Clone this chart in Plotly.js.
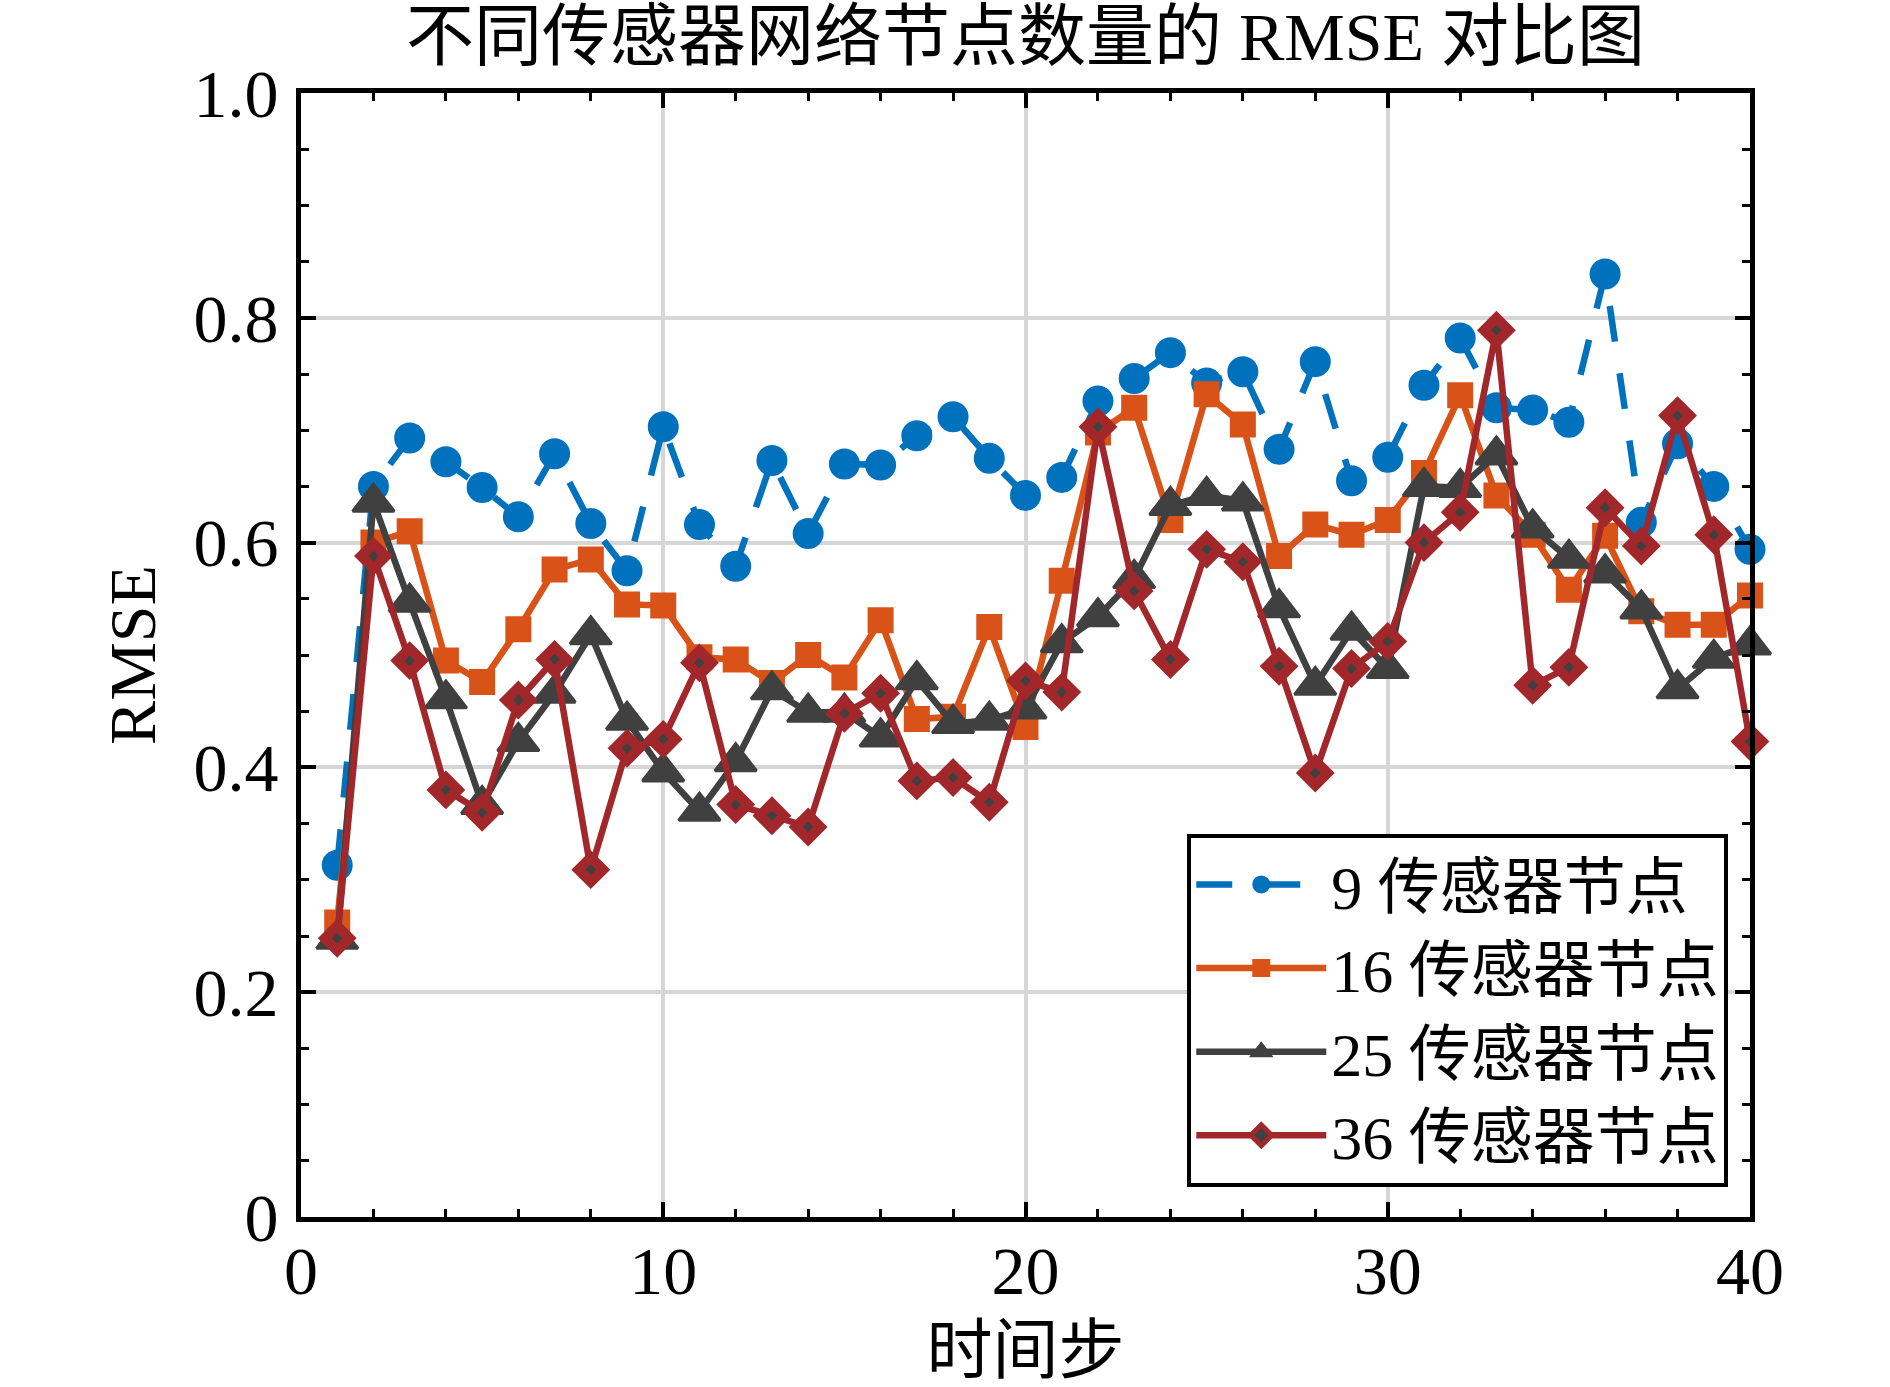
<!DOCTYPE html>
<html>
<head>
<meta charset="utf-8">
<script src="https://cdn.plot.ly/plotly-3.0.1.min.js"></script>
<style>html,body{margin:0;padding:0;background:#fff;}#chart{width:1890px;height:1387px;}</style>
</head>
<body>
<div id="chart"></div>
<script>
// ---- data ----
const timeSteps = [1,2,3,4,5,6,7,8,9,10,11,12,13,14,15,16,17,18,19,20,21,22,23,24,25,26,27,28,29,30,31,32,33,34,35,36,37,38,39,40];

const rmse9 = [0.313,0.650,0.693,0.672,0.649,0.623,0.679,0.617,0.575,0.703,
               0.616,0.579,0.673,0.608,0.670,0.669,0.695,0.712,0.675,0.642,
               0.658,0.726,0.746,0.769,0.742,0.752,0.683,0.761,0.655,0.676,
               0.740,0.782,0.720,0.718,0.707,0.839,0.618,0.688,0.650,0.594];

const rmse16 = [0.262,0.600,0.610,0.495,0.476,0.523,0.576,0.585,0.545,0.544,
                0.498,0.496,0.475,0.500,0.480,0.531,0.443,0.445,0.525,0.436,
                0.566,0.698,0.720,0.620,0.732,0.705,0.588,0.616,0.607,0.620,
                0.662,0.731,0.642,0.607,0.558,0.606,0.539,0.527,0.527,0.553];

const rmse25 = [0.247,0.636,0.547,0.461,0.367,0.423,0.466,0.518,0.442,0.396,
                0.361,0.405,0.469,0.449,0.449,0.427,0.478,0.439,0.442,0.452,
                0.511,0.534,0.568,0.633,0.642,0.637,0.542,0.473,0.522,0.488,
                0.650,0.649,0.678,0.613,0.586,0.573,0.541,0.470,0.497,0.509];

const rmse36 = [0.248,0.588,0.495,0.380,0.360,0.460,0.496,0.309,0.417,0.425,
                0.493,0.367,0.357,0.347,0.448,0.466,0.388,0.391,0.369,0.477,
                0.467,0.703,0.557,0.496,0.594,0.583,0.490,0.395,0.488,0.512,
                0.600,0.627,0.789,0.473,0.489,0.631,0.597,0.713,0.607,0.423];

const seriesNames = ["9 传感器节点","16 传感器节点","25 传感器节点","36 传感器节点"];
const xTickVals = [0,10,20,30,40];
const xTickText = ["0","10","20","30","40"];
const yTickVals = [0,0.2,0.4,0.6,0.8,1.0];
const yTickText = ["0","0.2","0.4","0.6","0.8","1.0"];
const chartTitle = "不同传感器网络节点数量的 RMSE 对比图";
const xTitle = "时间步";
const yTitle = "RMSE";

// ---- styles ----
const FONT = "'Liberation Serif', 'Noto Sans CJK SC', serif";
const cBlue = "#0072BD", cOrange = "#D95319", cGray = "#404040", cRed = "#A2272B";

const traces = [
  {x: timeSteps, y: rmse9, name: seriesNames[0], type: "scatter", mode: "lines+markers",
   line: {color: cBlue, width: 6.5, dash: "36px,32px"},
   marker: {symbol: "circle", size: 29, color: cBlue, line: {color: cBlue, width: 2}},
   cliponaxis: false},
  {x: timeSteps, y: rmse16, name: seriesNames[1], type: "scatter", mode: "lines+markers",
   line: {color: cOrange, width: 6.5},
   marker: {symbol: "square", size: 24, color: cOrange, line: {color: cOrange, width: 2}},
   cliponaxis: false},
  {x: timeSteps, y: rmse25, name: seriesNames[2], type: "scatter", mode: "lines+markers",
   line: {color: cGray, width: 6.5},
   marker: {symbol: "triangle-up", size: 36, color: cGray, line: {color: cGray, width: 3}},
   cliponaxis: false},
  {x: timeSteps, y: rmse36, name: seriesNames[3], type: "scatter", mode: "lines+markers",
   line: {color: cRed, width: 6.5},
   marker: {symbol: "diamond", size: 19, color: cGray, line: {color: cRed, width: 10}},
   cliponaxis: false}
];

const axisCommon = {
  showline: true, linecolor: "#000", linewidth: 5, mirror: "ticks",
  ticks: "inside", ticklen: 15, tickwidth: 4, tickcolor: "#000",
  showgrid: true, gridcolor: "#d6d6d6", gridwidth: 4,
  zeroline: false,
  tickfont: {family: FONT, size: 68, color: "#000"}
};

const layout = {
  width: 1890, height: 1387, autosize: false,
  paper_bgcolor: "#fff", plot_bgcolor: "#fff",
  margin: {l: 301, r: 140, t: 93, b: 170, pad: 0},
  font: {family: FONT, color: "#000"},
  title: {text: chartTitle, font: {family: FONT, size: 68, color: "#000"},
          x: 0.5, xref: "paper", xanchor: "center",
          y: 1 - 36/1387, yref: "container", yanchor: "middle"},
  xaxis: Object.assign({}, axisCommon, {
    range: [0, 40], tickmode: "array", tickvals: xTickVals, ticktext: xTickText,
    ticklabelstandoff: -10,
    minor: {dtick: 2, tick0: 0, ticks: "inside", ticklen: 8, tickwidth: 3, tickcolor: "#000", showgrid: false},
    title: {text: xTitle, font: {family: FONT, size: 66, color: "#000"}, standoff: 36}
  }),
  yaxis: Object.assign({}, axisCommon, {
    range: [0, 1], tickmode: "array", tickvals: yTickVals, ticktext: yTickText,
    ticklabelstandoff: 4,
    minor: {dtick: 0.05, tick0: 0, ticks: "inside", ticklen: 8, tickwidth: 3, tickcolor: "#000", showgrid: false},
    title: {text: yTitle, font: {family: FONT, size: 66, color: "#000"}, standoff: 18}
  }),
  showlegend: true,
  legend: {
    x: 0.985, xanchor: "right", y: 0.027, yanchor: "bottom",
    bgcolor: "#fff", bordercolor: "#000", borderwidth: 4,
    font: {family: FONT, size: 62, color: "#000"},
    tracegroupgap: 0, itemwidth: 130
  }
};

Plotly.newPlot("chart", traces, layout, {displayModeBar: false, staticPlot: true});
</script>
</body>
</html>
